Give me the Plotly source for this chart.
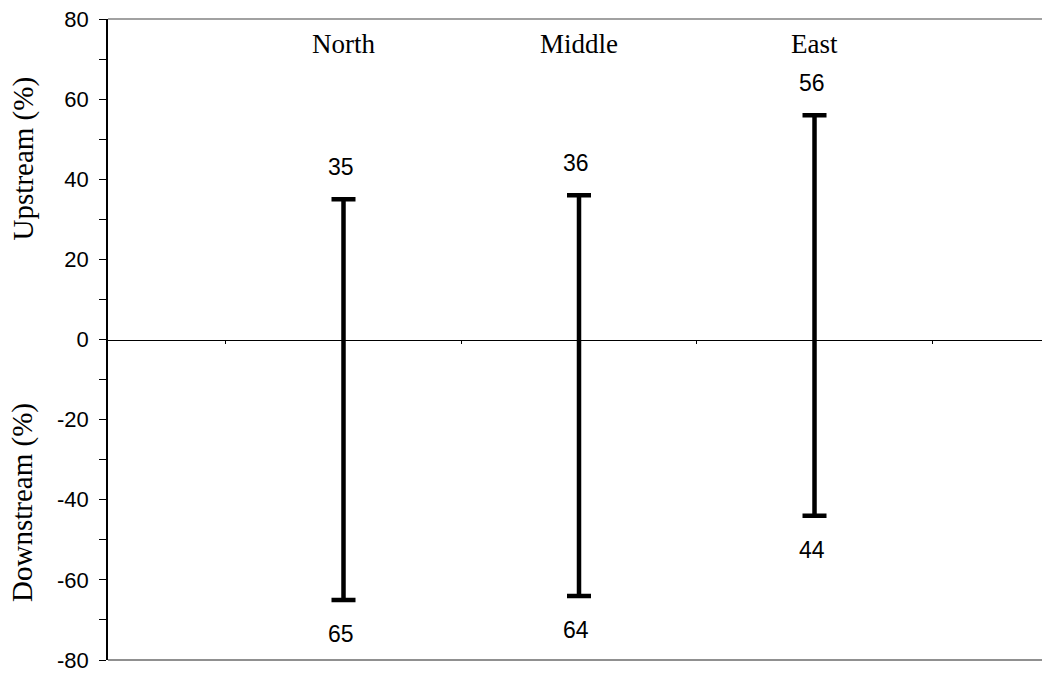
import plotly.graph_objects as go

categories = ["North", "Middle", "East"]
upstream = [35, 36, 56]
downstream = [65, 64, 44]
ytick_vals = [-80, -60, -40, -20, 0, 20, 40, 60, 80]
ytick_text = ["-80", "-60", "-40", "-20", "0", "20", "40", "60", "80"]

xpos = list(range(1, len(categories) + 1))

fig = go.Figure()
fig.add_trace(go.Scatter(
    x=xpos, y=[0] * len(xpos), mode="markers",
    marker=dict(size=1, color="rgba(0,0,0,0)"),
    error_y=dict(type="data", symmetric=False, array=upstream, arrayminus=downstream,
                 color="black", thickness=4.5, width=12),
    showlegend=False, hoverinfo="skip"))

annotations = []
for x, c, u, d in zip(xpos, categories, upstream, downstream):
    annotations.append(dict(x=x, y=0.961, xref="x", yref="paper", text=c, showarrow=False,
                            xanchor="center", yanchor="middle",
                            font=dict(family="Liberation Serif", size=27, color="black")))
    annotations.append(dict(x=x, y=u, xref="x", yref="y", text=str(u), showarrow=False,
                            xanchor="center", yanchor="middle", yshift=32, xshift=-3,
                            font=dict(family="Liberation Sans", size=23, color="black")))
    annotations.append(dict(x=x, y=-d, xref="x", yref="y", text=str(d), showarrow=False,
                            xanchor="center", yanchor="middle", yshift=-34, xshift=-3,
                            font=dict(family="Liberation Sans", size=23, color="black")))

annotations.append(dict(x=0, y=0.781, xref="paper", yref="paper", text="Upstream (%)",
                        showarrow=False, textangle=-90, xshift=-85,
                        xanchor="center", yanchor="middle",
                        font=dict(family="Liberation Serif", size=29, color="black")))
annotations.append(dict(x=0, y=0.245, xref="paper", yref="paper", text="Downstream (%)",
                        showarrow=False, textangle=-90, xshift=-85,
                        xanchor="center", yanchor="middle",
                        font=dict(family="Liberation Serif", size=29, color="black")))

fig.update_layout(
    width=1042, height=673,
    margin=dict(l=108, r=0, t=19, b=10),
    paper_bgcolor="white", plot_bgcolor="white",
    showlegend=False,
    annotations=annotations,
    xaxis=dict(range=[0, 3.966], anchor="free", position=0.5,
               showline=True, linecolor="black", linewidth=1.2,
               tickvals=[0.5, 1.5, 2.5, 3.5], ticktext=["", "", "", ""],
               ticks="outside", ticklen=3, tickcolor="black",
               showgrid=False, zeroline=False),
    yaxis=dict(range=[-80, 80], tickvals=ytick_vals, ticktext=ytick_text,
               showline=True, linecolor="black", linewidth=1.5,
               ticks="outside", ticklen=7, tickcolor="black",
               minor=dict(dtick=10, ticks="outside", ticklen=7, tickcolor="black"),
               tickfont=dict(family="Liberation Sans", size=22, color="black"),
               ticklabeloverflow="allow", ticklabelstandoff=6,
               showgrid=False, zeroline=False),
    shapes=[
        dict(type="line", xref="paper", yref="paper", x0=0, x1=1, y0=1, y1=1,
             line=dict(color="#444444", width=1.2)),
        dict(type="line", xref="paper", yref="paper", x0=0, x1=1, y0=0, y1=0,
             line=dict(color="#222222", width=1.2)),
    ],
)

fig.write_html("out.html", config={"displayModeBar": False},
               post_script="document.body.style.margin='0';document.body.style.overflow='hidden';")
